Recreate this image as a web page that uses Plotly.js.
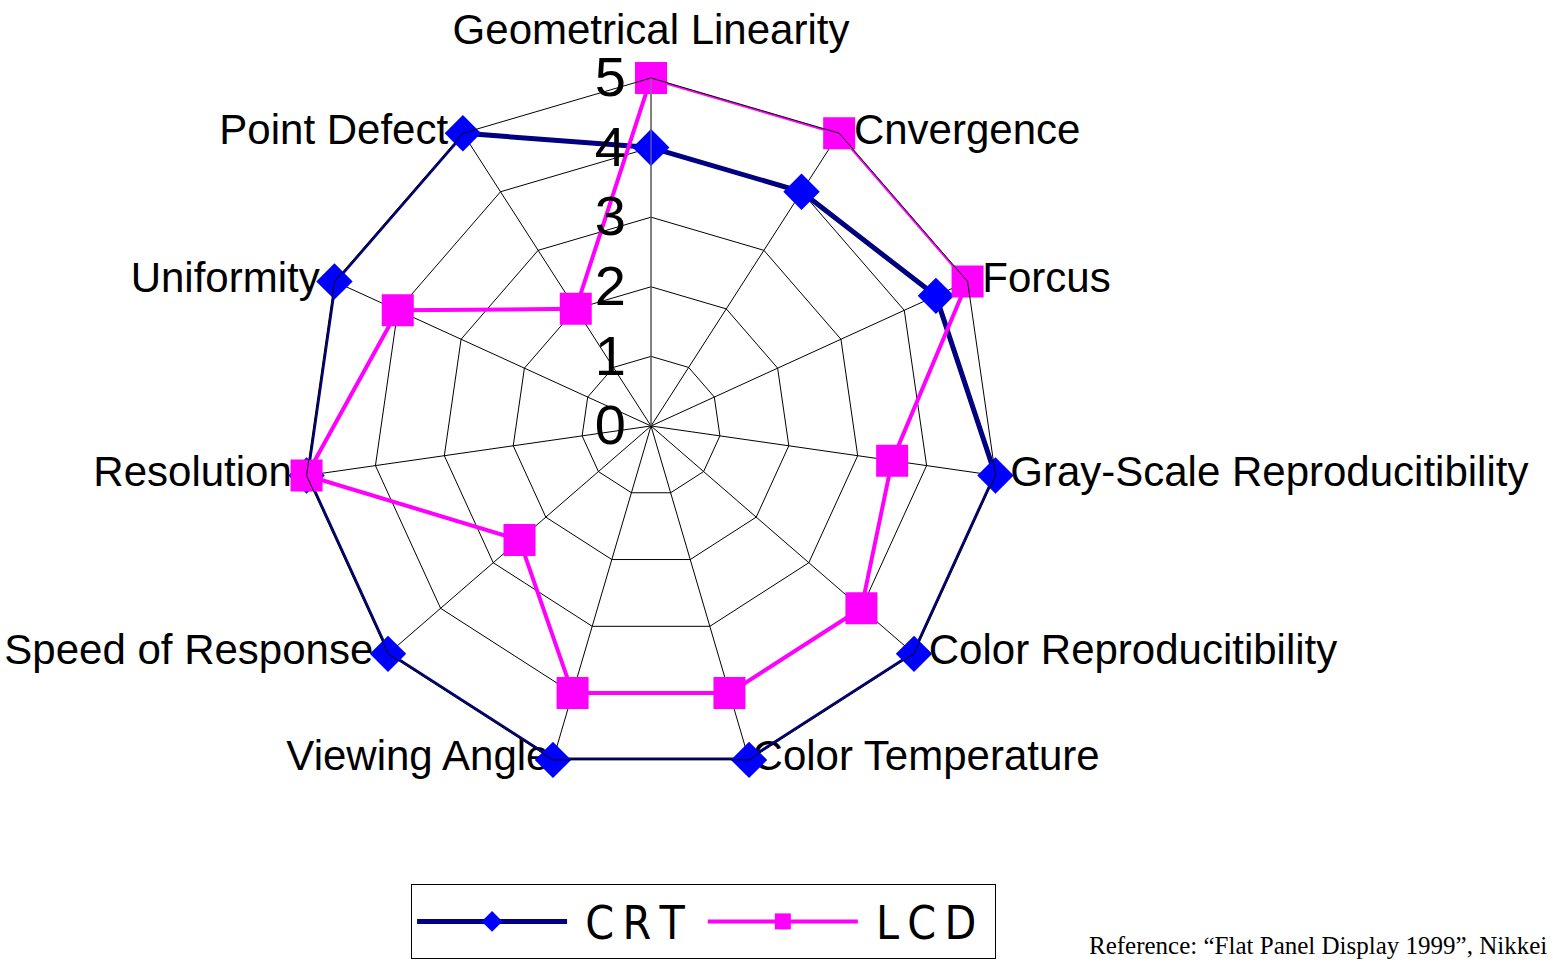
<!DOCTYPE html>
<html>
<head>
<meta charset="utf-8">
<script src="https://cdn.plot.ly/plotly-3.0.1.min.js"></script>
<style>
  html, body { margin: 0; padding: 0; background: #ffffff; }
  #chart { width: 1553px; height: 971px; }
</style>
</head>
<body>
<div id="chart"></div>
<script>
// ---- data ----
const categories = [
  "Geometrical Linearity",
  "Cnvergence",
  "Forcus",
  "Gray-Scale Reproducitibility",
  "Color Reproducitibility",
  "Color Temperature",
  "Viewing Angle",
  "Speed of Response",
  "Resolution",
  "Uniformity",
  "Point Defect"
];
const crtValues = [4, 4, 4.5, 5, 5, 5, 5, 5, 5, 5, 5];
const lcdValues = [5, 5, 5, 3.5, 4, 4, 4, 2.5, 5, 4, 2];
const seriesNames = ["C R T", "L C D"];
const radialTicks = [0, 1, 2, 3, 4, 5];
const sourceNote = "Reference: \u201cFlat Panel Display 1999\u201d, Nikkei";

const radialMax = radialTicks[radialTicks.length - 1];

function closeLoop(arr) { return arr.concat([arr[0]]); }

// legend names with thin letter gaps and a little padding
function legendLabel(name) {
  return "\u00A0" + name.split(" ").join("\u2009") + "\u00A0";
}

// category labels placed next to each outer vertex (through the polar scale)
const nCat = categories.length;
const labelPositions = categories.map(function (c, i) {
  if (i === 0) return "top center";
  return (i <= nCat / 2) ? "middle right" : "middle left";
});
const labelGaps = categories.map(function (c, i) {
  const deg = i * 360 / nCat;
  if (i === 0) return 36;
  if (Math.abs(deg - 180) < 20) return 4;
  return 22;
});

const traces = [
  {
    type: "scatterpolar",
    mode: "markers+text",
    r: categories.map(function () { return radialMax; }),
    theta: categories,
    text: categories,
    textposition: labelPositions,
    textfont: { family: "Liberation Sans, Arial, sans-serif", size: 42, color: "#000000" },
    marker: { size: labelGaps, color: "rgba(0,0,0,0)", line: { width: 0 } },
    showlegend: false,
    hoverinfo: "skip",
    cliponaxis: false
  },
  {
    type: "scatterpolar",
    mode: "lines+markers",
    name: legendLabel(seriesNames[0]),
    r: closeLoop(crtValues),
    theta: closeLoop(categories),
    line: { color: "#000080", width: 5 },
    marker: { symbol: "diamond", size: 28, color: "#0000FF", line: { width: 0 } },
    cliponaxis: false
  },
  {
    type: "scatterpolar",
    mode: "lines+markers",
    name: legendLabel(seriesNames[1]),
    r: closeLoop(lcdValues),
    theta: closeLoop(categories),
    line: { color: "#FF00FF", width: 4 },
    marker: { symbol: "square", size: 32, color: "#FF00FF", line: { width: 0 } },
    cliponaxis: false
  }
];

const layout = {
  width: 1553,
  height: 971,
  margin: { l: 0, r: 0, t: 0, b: 0 },
  paper_bgcolor: "#ffffff",
  plot_bgcolor: "#ffffff",
  font: { family: "Liberation Sans, Arial, sans-serif", color: "#000000" },
  showlegend: true,
  legend: {
    orientation: "h",
    x: 0.2647,
    xanchor: "left",
    y: 0.0896,
    yanchor: "top",
    bgcolor: "#ffffff",
    bordercolor: "#000000",
    borderwidth: 1,
    itemwidth: 150,
    font: { family: "Liberation Sans Narrow, DejaVu Sans Condensed, sans-serif", size: 46, color: "#000000" }
  },
  polar: {
    domain: { x: [0.1951, 0.6433], y: [0.2029, 0.9197] },
    gridshape: "linear",
    bgcolor: "#ffffff",
    radialaxis: {
      range: [0, radialMax],
      tickvals: radialTicks,
      ticktext: radialTicks.map(String),
      angle: 90,
      tickangle: 90,
      side: "counterclockwise",
      showline: true,
      linecolor: "#808080",
      linewidth: 1,
      gridcolor: "#000000",
      gridwidth: 1,
      ticks: "outside",
      ticklen: 5,
      tickcolor: "rgba(0,0,0,0)",
      tickfont: { family: "Liberation Sans, Arial, sans-serif", size: 56, color: "#000000" }
    },
    angularaxis: {
      type: "category",
      categoryarray: categories,
      rotation: 90,
      direction: "clockwise",
      showline: true,
      linecolor: "#000000",
      linewidth: 1,
      gridcolor: "#000000",
      gridwidth: 1,
      ticks: "",
      showticklabels: false
    }
  },
  annotations: [
    {
      text: sourceNote,
      xref: "paper", yref: "paper",
      x: 1087 / 1553, y: 0.026,
      xanchor: "left", yanchor: "middle",
      showarrow: false,
      font: { family: "Liberation Serif, Times New Roman, serif", size: 25, color: "#000000" }
    }
  ]
};

Plotly.newPlot("chart", traces, layout, { displayModeBar: false, staticPlot: true });
</script>
</body>
</html>
